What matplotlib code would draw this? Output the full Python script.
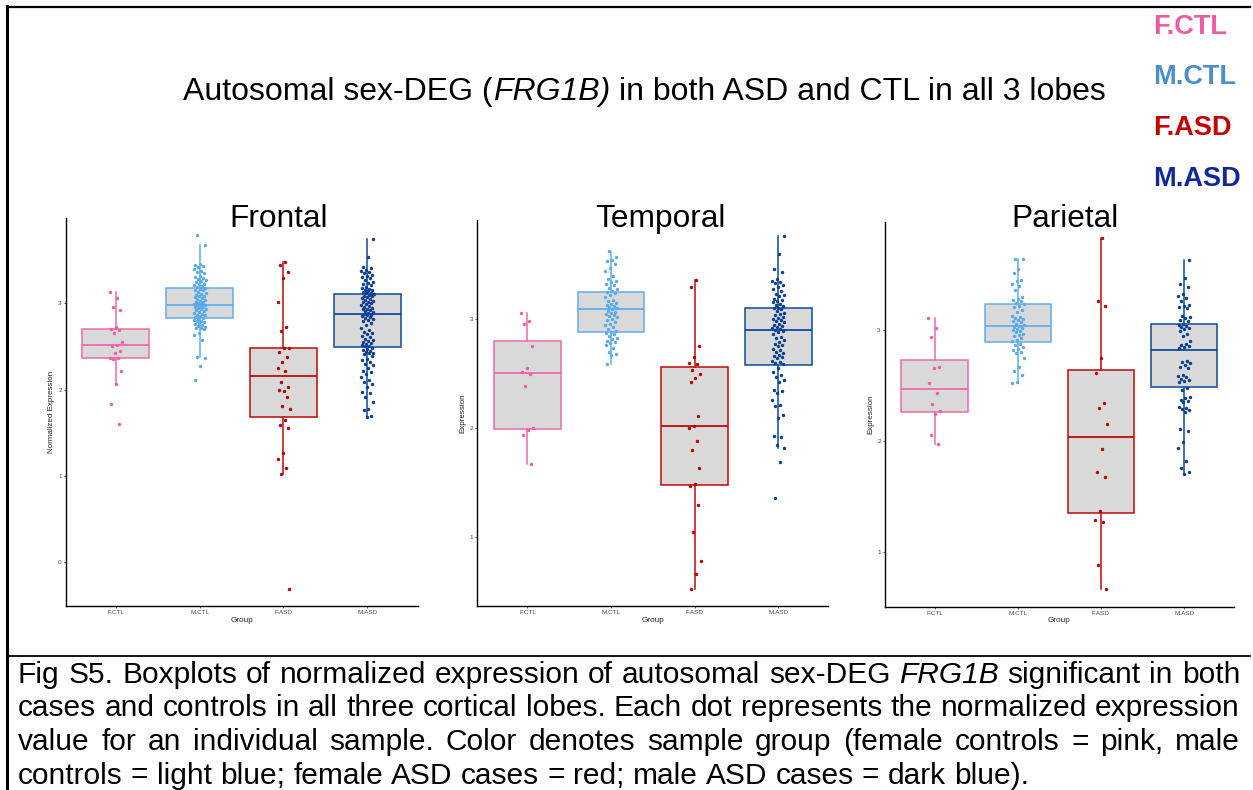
import matplotlib
matplotlib.use("Agg")
import matplotlib.pyplot as plt
from matplotlib.lines import Line2D
import numpy as np

plt.rcParams['font.family'] = ['Liberation Sans', 'DejaVu Sans']

# ---------------- data ----------------
groups = ["F.CTL", "M.CTL", "F.ASD", "M.ASD"]
lobes = ["Frontal", "Temporal", "Parietal"]
y_labels = ["Normalized Expression", "Expression", "Expression"]
y_ticks = [[0, 1, 2, 3], [1, 2, 3], [1, 2, 3]]
y_limits = [(-0.51, 3.99), (0.37, 3.91), (0.503, 3.98)]

# Frontal lobe samples
frontal_fctl = [3.13, 3.06, 2.96, 2.92, 2.73, 2.70, 2.69, 2.66, 2.55, 2.52, 2.51, 2.45, 2.43,
                2.37, 2.37, 2.35, 2.21, 2.07, 1.83, 1.60]
frontal_mctl = [3.79, 3.68, 3.46, 3.44, 3.43, 3.42, 3.40, 3.38, 3.36, 3.35, 3.32, 3.30, 3.29,
                3.28, 3.27, 3.26, 3.25, 3.23, 3.22, 3.21, 3.20, 3.19, 3.18, 3.17, 3.16, 3.15,
                3.13, 3.12, 3.11, 3.10, 3.09, 3.08, 3.07, 3.06, 3.05, 3.04, 3.03, 3.02, 3.01,
                3.00, 2.99, 2.99, 2.98, 2.98, 2.97, 2.96, 2.96, 2.95, 2.94, 2.93, 2.92, 2.91,
                2.90, 2.89, 2.88, 2.87, 2.86, 2.85, 2.84, 2.83, 2.82, 2.81, 2.80, 2.79, 2.78,
                2.77, 2.76, 2.75, 2.74, 2.73, 2.72, 2.71, 2.70, 2.66, 2.63, 2.57, 2.38, 2.37,
                2.27, 2.11]
frontal_fasd = [3.48, 3.45, 3.36, 3.29, 3.02, 2.73, 2.68, 2.48, 2.48, 2.44, 2.38, 2.32, 2.25,
                2.21, 2.09, 2.03, 1.98, 1.99, 1.91, 1.81, 1.78, 1.65, 1.59, 1.56, 1.26, 1.19,
                1.09, 1.02, -0.31]
frontal_masd = [3.75, 3.54, 3.42, 3.41, 3.39, 3.37, 3.36, 3.35, 3.33, 3.32, 3.31, 3.29, 3.27,
                3.25, 3.24, 3.22, 3.21, 3.19, 3.18, 3.17, 3.16, 3.15, 3.14, 3.13, 3.12, 3.12,
                3.11, 3.10, 3.09, 3.08, 3.07, 3.06, 3.05, 3.04, 3.03, 3.02, 3.01, 3.00, 2.99,
                2.98, 2.97, 2.96, 2.95, 2.94, 2.93, 2.92, 2.91, 2.90, 2.89, 2.88, 2.87, 2.86,
                2.85, 2.84, 2.83, 2.82, 2.81, 2.79, 2.77, 2.75, 2.72, 2.69, 2.67, 2.66, 2.64,
                2.62, 2.61, 2.59, 2.57, 2.56, 2.55, 2.54, 2.53, 2.52, 2.51, 2.50, 2.48, 2.47,
                2.46, 2.45, 2.44, 2.43, 2.42, 2.41, 2.39, 2.36, 2.34, 2.32, 2.30, 2.28, 2.25,
                2.22, 2.20, 2.18, 2.15, 2.11, 2.09, 2.06, 2.03, 1.97, 1.96, 1.91, 1.86, 1.77,
                1.76, 1.69, 1.68]

# Temporal lobe samples
temporal_fctl = [3.06, 2.98, 2.96, 2.75, 2.55, 2.52, 2.50, 2.39, 2.00, 1.98, 1.94, 1.67]
temporal_mctl = [3.63, 3.57, 3.54, 3.53, 3.51, 3.47, 3.44, 3.40, 3.37, 3.35, 3.34, 3.32, 3.31,
                 3.29, 3.28, 3.26, 3.25, 3.24, 3.22, 3.20, 3.18, 3.17, 3.15, 3.14, 3.13, 3.12,
                 3.11, 3.10, 3.09, 3.08, 3.07, 3.06, 3.05, 3.04, 3.03, 3.02, 3.00, 2.99, 2.97,
                 2.96, 2.95, 2.93, 2.91, 2.89, 2.88, 2.87, 2.86, 2.85, 2.83, 2.82, 2.80, 2.79,
                 2.78, 2.76, 2.74, 2.70, 2.68, 2.67, 2.59]
temporal_fasd = [3.36, 3.30, 2.75, 2.65, 2.60, 2.59, 2.53, 2.50, 2.46, 2.42, 2.11, 2.02, 2.00,
                 1.88, 1.80, 1.64, 1.49, 1.47, 1.30, 1.05, 0.78, 0.66, 0.53]
temporal_masd = [3.76, 3.60, 3.46, 3.43, 3.37, 3.35, 3.34, 3.33, 3.31, 3.30, 3.28, 3.26, 3.23,
                 3.22, 3.21, 3.19, 3.18, 3.17, 3.16, 3.14, 3.13, 3.12, 3.10, 3.10, 3.09, 3.08,
                 3.06, 3.05, 3.04, 3.02, 3.01, 3.00, 2.99, 2.98, 2.97, 2.96, 2.95, 2.94, 2.93,
                 2.92, 2.91, 2.90, 2.89, 2.88, 2.86, 2.84, 2.83, 2.81, 2.79, 2.77, 2.76, 2.75,
                 2.73, 2.72, 2.70, 2.69, 2.67, 2.66, 2.65, 2.64, 2.62, 2.61, 2.60, 2.59, 2.55,
                 2.52, 2.49, 2.47, 2.44, 2.42, 2.35, 2.34, 2.32, 2.26, 2.21, 2.20, 2.12, 2.09,
                 1.93, 1.92, 1.85, 1.82, 1.69, 1.36]

# Parietal lobe samples
parietal_fctl = [3.11, 3.02, 2.94, 2.67, 2.66, 2.52, 2.43, 2.33, 2.27, 2.24, 2.05, 1.97]
parietal_mctl = [3.64, 3.64, 3.55, 3.52, 3.45, 3.44, 3.42, 3.40, 3.36, 3.30, 3.28, 3.27, 3.26,
                 3.25, 3.24, 3.22, 3.21, 3.18, 3.16, 3.13, 3.12, 3.11, 3.10, 3.09, 3.08, 3.07,
                 3.06, 3.05, 3.04, 3.03, 3.02, 3.01, 3.00, 2.99, 2.98, 2.97, 2.96, 2.95, 2.93,
                 2.91, 2.90, 2.88, 2.87, 2.85, 2.83, 2.82, 2.80, 2.79, 2.75, 2.67, 2.63, 2.60,
                 2.53, 2.52]
parietal_fasd = [3.83, 3.26, 3.22, 2.75, 2.61, 2.34, 2.30, 2.15, 1.93, 1.72, 1.67, 1.37, 1.29,
                 1.27, 0.88, 0.66]
parietal_masd = [3.63, 3.47, 3.42, 3.39, 3.33, 3.31, 3.29, 3.26, 3.23, 3.22, 3.21, 3.20, 3.13,
                 3.12, 3.11, 3.09, 3.08, 3.06, 3.05, 3.04, 3.03, 3.02, 3.01, 2.99, 2.97, 2.95,
                 2.90, 2.88, 2.87, 2.86, 2.85, 2.84, 2.72, 2.71, 2.70, 2.69, 2.67, 2.66, 2.60,
                 2.59, 2.58, 2.56, 2.55, 2.54, 2.53, 2.48, 2.46, 2.40, 2.39, 2.37, 2.36, 2.35,
                 2.31, 2.30, 2.29, 2.28, 2.26, 2.11, 2.09, 1.99, 1.94, 1.82, 1.76, 1.72, 1.70]

samples = [
    [frontal_fctl, frontal_mctl, frontal_fasd, frontal_masd],
    [temporal_fctl, temporal_mctl, temporal_fasd, temporal_masd],
    [parietal_fctl, parietal_mctl, parietal_fasd, parietal_masd],
]

# box summaries per lobe: lower whisker, Q1, median, Q3, upper whisker
box_whislo = [[2.07, 2.38, 1.02, 1.68], [1.67, 2.59, 0.53, 1.82], [1.97, 2.52, 0.66, 1.70]]
box_q1 = [[2.366, 2.83, 1.685, 2.49], [1.99, 2.88, 1.48, 2.58], [2.26, 2.89, 1.35, 2.49]]
box_med = [[2.52, 2.98, 2.16, 2.88], [2.51, 3.09, 2.02, 2.90], [2.47, 3.04, 2.04, 2.82]]
box_q3 = [[2.70, 3.18, 2.48, 3.11], [2.80, 3.25, 2.56, 3.10], [2.735, 3.24, 2.64, 3.06]]
box_whishi = [[3.13, 3.68, 3.48, 3.75], [3.06, 3.62, 3.36, 3.76], [3.11, 3.64, 3.83, 3.63]]

# heading as (text, style, preceded-by-space) runs
title_runs = [("Autosomal sex-DEG (", "normal", False),
              ("FRG1B)", "italic", False),
              ("in both ASD and CTL in all 3 lobes", "normal", True)]
legend_labels = ["F.CTL", "M.CTL", "F.ASD", "M.ASD"]
legend_colors = ["#EE5AA4", "#4A8ECC", "#C40000", "#10289C"]
caption_lines = [
    "Fig S5. Boxplots of normalized expression of autosomal sex-DEG FRG1B significant in both",
    "cases and controls in all three cortical lobes. Each dot represents the normalized expression",
    "value for an individual sample. Color denotes sample group (female controls = pink, male",
    "controls = light blue; female ASD cases = red; male ASD cases = dark blue).",
]
caption_italic = {"FRG1B"}

# ---------------- styling ----------------
edge_colors = ["#EE6AAC", "#62AEEC", "#BE0A0A", "#0D4A9A"]
point_colors = ["#EE5DA5", "#5AAAEA", "#B80000", "#0A3F92"]
box_fill = "#D9D9D9"

W, H = 1253, 790
fig = plt.figure(figsize=(W / 100, H / 100), dpi=100)
renderer = fig.canvas.get_renderer()


def px_rect(left, top, right, bottom):
    return [left / W, 1 - bottom / H, (right - left) / W, (bottom - top) / H]


def text_width(s, size, style="normal"):
    t = fig.text(0, 0, s, fontsize=size, style=style)
    w = t.get_window_extent(renderer).width
    t.remove()
    return w


def space_width(size):
    return text_width("a a", size) - text_width("aa", size)


panel_px = [(65.7, 218, 417.5, 606), (477.3, 220, 828.3, 606), (884.7, 221.7, 1234, 606.7)]
title_x = [279, 660, 1065]
ylabel_x = [-0.030, -0.030, -0.030]

positions = np.arange(1, len(groups) + 1)

for k, lobe in enumerate(lobes):
    ax = fig.add_axes(px_rect(*panel_px[k]))
    for g in range(len(groups)):
        c = edge_colors[g]
        st = dict(whislo=box_whislo[k][g], q1=box_q1[k][g], med=box_med[k][g],
                  q3=box_q3[k][g], whishi=box_whishi[k][g], fliers=[])
        ax.bxp([st], positions=[positions[g]], widths=0.8, patch_artist=True,
               showcaps=False, showfliers=False,
               boxprops=dict(facecolor=box_fill, edgecolor=c, linewidth=1.1),
               medianprops=dict(color=c, linewidth=1.3),
               whiskerprops=dict(color=c, linewidth=1.1), zorder=2)
        vals = np.asarray(samples[k][g], dtype=float)
        idx = np.arange(len(vals))
        offs = ((idx * 0.6180339887 + 0.31 * g) % 1.0 - 0.5) * 0.15
        ax.scatter(positions[g] + offs, vals, s=6, color=point_colors[g],
                   linewidths=0, zorder=3)

    ax.set_xlim(0.4, 4.6)
    ax.set_ylim(*y_limits[k])
    ax.set_xticks(positions)
    ax.set_xticklabels(groups)
    ax.set_yticks(y_ticks[k])
    ax.set_yticklabels([str(t) for t in y_ticks[k]])
    for side in ("top", "right"):
        ax.spines[side].set_visible(False)
    for side in ("left", "bottom"):
        ax.spines[side].set_linewidth(1.0)
        ax.spines[side].set_color("black")
    ax.tick_params(axis="both", length=1.6, width=0.6, color="#444444", pad=1.2,
                   labelsize=4.6, labelcolor="#4D4D4D")
    ax.set_xlabel("Group", fontsize=5.9, color="#222222")
    ax.set_ylabel(y_labels[k], fontsize=5.8, color="#222222")
    ax.xaxis.set_label_coords(0.5, -0.028)
    ax.yaxis.set_label_coords(ylabel_x[k], 0.5)

    fig.text(title_x[k] / W, 1 - 227 / H, lobe, fontsize=22.8, ha="center",
             va="baseline", color="black")

# main heading, drawn run by run so the gene symbol can be italic
head_size = 23
head_center, head_base = 644.5, 100
run_w = [text_width(s, head_size, st) for s, st, _ in title_runs]
sp = space_width(head_size)
total = sum(run_w) + sp * sum(1 for r in title_runs if r[2])
x = head_center - total / 2
for (s, st, lead), wd in zip(title_runs, run_w):
    if lead:
        x += sp
    fig.text(x / W, 1 - head_base / H, s, fontsize=head_size, style=st,
             ha="left", va="baseline", color="black")
    x += wd

# group colour key
key_baselines = [34.3, 84.3, 135, 185.7]
for lab, col, yb in zip(legend_labels, legend_colors, key_baselines):
    fig.text(1153 / W, 1 - yb / H, lab, fontsize=19.5, fontweight="bold", color=col,
             ha="left", va="baseline")

# frame lines
frame = [((7, 1250), (7, 7), 1.6), ((7, 7), (6, 790), 2.2), ((7, 1250), (655.5, 655.5), 1.3)]
for xs, ys, lw in frame:
    fig.add_artist(Line2D([x_ / W for x_ in xs], [1 - y_ / H for y_ in ys], color="black",
                          linewidth=lw, transform=fig.transFigure))

# justified caption
cap_size = 21.5
cap_left, cap_right = 18, 1240
cap_baselines = [683, 716.5, 750, 783.5]
sp = space_width(cap_size)
for i, line in enumerate(caption_lines):
    words = line.split(" ")
    styles = ["italic" if w in caption_italic else "normal" for w in words]
    widths = [text_width(w, cap_size, s) for w, s in zip(words, styles)]
    last = i == len(caption_lines) - 1
    gap = sp if last else (cap_right - cap_left - sum(widths)) / (len(words) - 1)
    x = cap_left
    for w, s, wd in zip(words, styles, widths):
        fig.text(x / W, 1 - cap_baselines[i] / H, w, fontsize=cap_size, style=s,
                 ha="left", va="baseline", color="black")
        x += wd + gap

fig.savefig("out.png", dpi=100, facecolor="white")
